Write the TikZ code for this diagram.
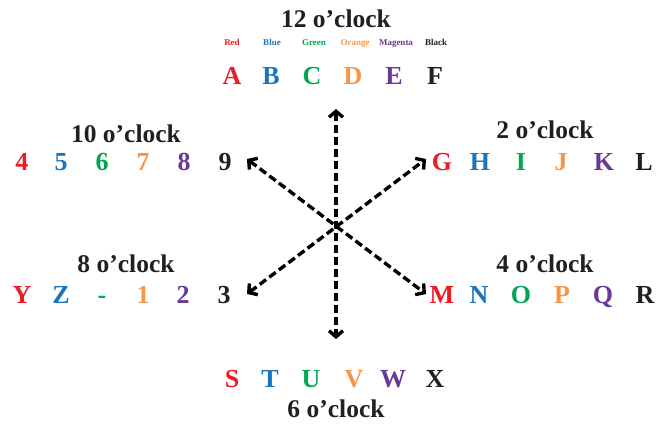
\documentclass[tikz,border=0pt]{standalone}
\usepackage{fontspec}
\setmainfont{Liberation Serif}
\usetikzlibrary{arrows.meta}
\definecolor{cred}{HTML}{ED1C24}
\definecolor{cblue}{HTML}{1B75BC}
\definecolor{cgreen}{HTML}{00A651}
\definecolor{corange}{HTML}{F7964A}
\definecolor{cmag}{HTML}{6A3895}
\definecolor{cblack}{HTML}{231F20}
\tikzset{
  glyph/.style={anchor=base, inner sep=0pt, font=\fontsize{26}{26}\selectfont\bfseries},
  title/.style={anchor=base, inner sep=0pt, text=cblack, font=\fontsize{25.5}{25.5}\selectfont\bfseries},
  clabel/.style={anchor=base, inner sep=0pt, font=\fontsize{9}{9}\selectfont\bfseries},
  tip/.tip={Straight Barb[length=6pt,width=14pt,line width=3.4pt]},
  dir/.style={line width=3.4pt, dash pattern=on 8pt off 4pt, black, tip-tip}
}
\begin{document}
\begin{tikzpicture}[x=1pt,y=-1pt]
\useasboundingbox (0,0) rectangle (665,424);
% 12 o'clock
\node[title] (t12) at (336,27) {12 o’clock};
\node[clabel,text=cred]   (lred) at (232,45) {Red};
\node[clabel,text=cblue]  (lblu) at (272,45) {Blue};
\node[clabel,text=cgreen] (lgrn) at (314,45) {Green};
\node[clabel,text=corange](lorg) at (355,45) {Orange};
\node[clabel,text=cmag]   (lmag) at (396,45) {Magenta};
\node[clabel,text=cblack] (lblk) at (436,45) {Black};
\node[glyph,text=cred]   (A) at (232,84) {A};
\node[glyph,text=cblue]  (B) at (271,84) {B};
\node[glyph,text=cgreen] (C) at (312,84) {C};
\node[glyph,text=corange](D) at (353,84) {D};
\node[glyph,text=cmag]   (E) at (394,84) {E};
\node[glyph,text=cblack] (F) at (435,84) {F};
% 10 o'clock
\node[title] (t10) at (126,142) {10 o’clock};
\node[glyph,text=cred]   (n4) at (22,170) {4};
\node[glyph,text=cblue]  (n5) at (61,170) {5};
\node[glyph,text=cgreen] (n6) at (102,170) {6};
\node[glyph,text=corange](n7) at (143,170) {7};
\node[glyph,text=cmag]   (n8) at (184,170) {8};
\node[glyph,text=cblack] (n9) at (225,170) {9};
% 2 o'clock
\node[title] (t2) at (545,138) {2 o’clock};
\node[glyph,text=cred]   (G) at (442,170) {G};
\node[glyph,text=cblue]  (H) at (480,170) {H};
\node[glyph,text=cgreen] (I) at (521,170) {I};
\node[glyph,text=corange](J) at (561,170) {J};
\node[glyph,text=cmag]   (K) at (604,170) {K};
\node[glyph,text=cblack] (L) at (644,170) {L};
% 8 o'clock
\node[title] (t8) at (126,272) {8 o’clock};
\node[glyph,text=cred]   (Y) at (22,303) {Y};
\node[glyph,text=cblue]  (Z) at (61,303) {Z};
\node[glyph,text=cgreen] (hy) at (102,303) {-};
\node[glyph,text=corange](n1) at (143,303) {1};
\node[glyph,text=cmag]   (n2) at (183,303) {2};
\node[glyph,text=cblack] (n3) at (224,303) {3};
% 4 o'clock
\node[title] (t4) at (545,272) {4 o’clock};
\node[glyph,text=cred]   (M) at (442,303) {M};
\node[glyph,text=cblue]  (N) at (479,303) {N};
\node[glyph,text=cgreen] (O) at (521,303) {O};
\node[glyph,text=corange](P) at (562,303) {P};
\node[glyph,text=cmag]   (Q) at (603,303) {Q};
\node[glyph,text=cblack] (R) at (645,303) {R};
% 6 o'clock
\node[glyph,text=cred]   (S) at (232,387) {S};
\node[glyph,text=cblue]  (T) at (270,387) {T};
\node[glyph,text=cgreen] (U) at (311,387) {U};
\node[glyph,text=corange](V) at (354,387) {V};
\node[glyph,text=cmag]   (W) at (393,387) {W};
\node[glyph,text=cblack] (X) at (435,387) {X};
\node[title] (t6) at (336,417) {6 o’clock};
% arrows
\coordinate (up) at (336,109);
\coordinate (dn) at (336,339);
\coordinate (ul) at (247,159);
\coordinate (lr) at (426,294);
\coordinate (ll) at (247,294);
\coordinate (ur) at (426,159);
\draw[dir] (up) -- (dn);
\draw[dir] (ul) -- (lr);
\draw[dir] (ll) -- (ur);
\end{tikzpicture}
\end{document}
